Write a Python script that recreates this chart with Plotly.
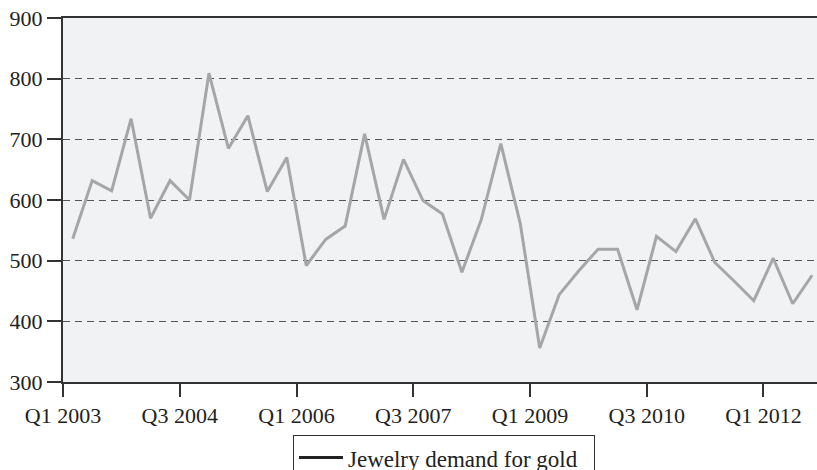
import plotly.graph_objects as go

quarters = [f"Q{q} {y}" for y in range(2003, 2013) for q in range(1, 5)][:39]
demand = [536, 632, 615, 734, 570, 632, 600, 809, 685, 739,
          614, 670, 492, 535, 557, 709, 568, 667, 599, 577,
          481, 568, 693, 561, 356, 444, 483, 519, 519, 419,
          540, 515, 569, 497, 466, 434, 504, 429, 476]
tick_labels = ["Q1 2003", "Q3 2004", "Q1 2006", "Q3 2007", "Q1 2009", "Q3 2010", "Q1 2012"]
y_ticks = [300, 400, 500, 600, 700, 800, 900]
series_name = "Jewelry demand for gold"

xpos = [i + 0.5 for i in range(len(demand))]
tickpos = [quarters.index(t) for t in tick_labels]

FONT = "Liberation Serif"

fig = go.Figure()
fig.add_trace(go.Scatter(x=xpos, y=demand, mode="lines",
                         line=dict(color="#a6a6a6", width=3),
                         showlegend=False, hoverinfo="skip"))
fig.add_trace(go.Scatter(x=[None], y=[None], mode="lines",
                         line=dict(color="#222222", width=3),
                         name=series_name + "\u00a0\u00a0", showlegend=True))

fig.update_layout(
    width=817, height=470,
    margin=dict(l=63, r=0, t=18, b=88, autoexpand=False),
    paper_bgcolor="white",
    plot_bgcolor="#f1f2f4",
    font=dict(family=FONT, size=22, color="#222222"),
    legend=dict(x=0.305, y=-0.146, xanchor="left", yanchor="top",
                bordercolor="#333333", borderwidth=1, bgcolor="white",
                font=dict(family=FONT, size=23, color="#222222"),
                itemwidth=44),
    xaxis=dict(range=[0, 38.75], tickmode="array", tickvals=tickpos,
               ticktext=tick_labels, showgrid=False, zeroline=False,
               showline=True, linecolor="#333333", linewidth=2, mirror=True,
               ticks="outside", ticklen=13, tickwidth=1.5, tickcolor="#333333",
               automargin=False),
    yaxis=dict(range=[300, 900], tickmode="array", tickvals=y_ticks,
               showgrid=True, gridcolor="#555555", gridwidth=1, griddash="7px,5px",
               zeroline=False, showline=True, linecolor="#333333", linewidth=2,
               ticks="outside", ticklen=14, tickwidth=1.5, tickcolor="#333333",
               automargin=False),
)

fig.write_html("out.html", config={"displayModeBar": False},
               post_script="document.body.style.margin='0';document.body.style.overflow='hidden';")
